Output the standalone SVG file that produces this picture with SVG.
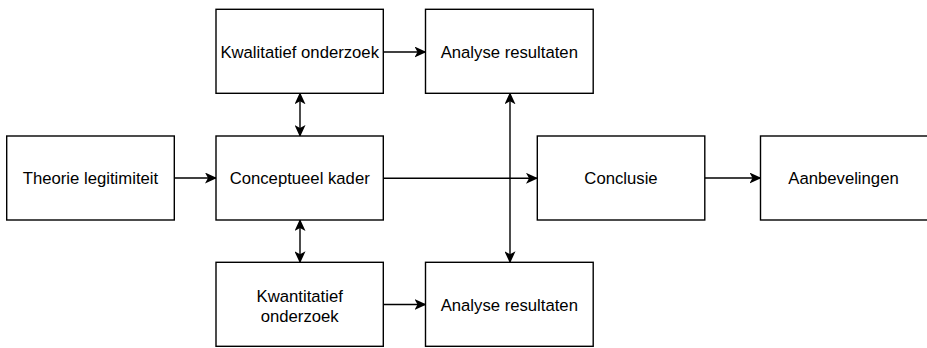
<svg xmlns="http://www.w3.org/2000/svg" width="927" height="348" viewBox="0 0 927 348">
<style>
.box{fill:#fff;stroke:#000;stroke-width:1.4}
.lbl{font-family:"Liberation Sans",Arial,sans-serif;font-size:16.7px;fill:#000;text-anchor:middle}
.edge{fill:none;stroke:#000;stroke-width:1.4}
</style>
<defs>
<marker id="ah" viewBox="0 0 12 11" refX="11" refY="5.5" markerWidth="12" markerHeight="11" markerUnits="userSpaceOnUse" orient="auto-start-reverse">
<path d="M0,0 L12,5.5 L0,11 L3,5.5 Z" fill="#000"/>
</marker>
</defs>
<rect width="927" height="348" fill="#fff"/>
<g id="connectors">
<line class="edge" x1="174.3" y1="178" x2="216" y2="178" marker-end="url(#ah)"/>
<line class="edge" x1="383.3" y1="52" x2="425.5" y2="52" marker-end="url(#ah)"/>
<line class="edge" x1="383.3" y1="304.5" x2="425.5" y2="304.5" marker-end="url(#ah)"/>
<line class="edge" x1="300" y1="93.3" x2="300" y2="136" marker-start="url(#ah)" marker-end="url(#ah)"/>
<line class="edge" x1="300" y1="220" x2="300" y2="262.3" marker-start="url(#ah)" marker-end="url(#ah)"/>
<line class="edge" x1="510" y1="93.3" x2="510" y2="262.3" marker-start="url(#ah)" marker-end="url(#ah)"/>
<path class="edge" d="M383.3,178.3 L537,178.3" stroke="#333" marker-end="url(#ah)"/>
<line class="edge" x1="704.8" y1="178" x2="760.5" y2="178" marker-end="url(#ah)"/>
</g>
<g id="theorie">
<rect class="box" x="6.7" y="136" width="167.6" height="84"/>
<text class="lbl" x="90.5" y="184">Theorie legitimiteit</text>
</g>
<g id="kwalitatief">
<rect class="box" x="216" y="9.3" width="167.3" height="84"/>
<text class="lbl" x="299.7" y="57.5">Kwalitatief onderzoek</text>
</g>
<g id="conceptueel">
<rect class="box" x="216" y="136" width="167.3" height="84"/>
<text class="lbl" x="299.7" y="184">Conceptueel kader</text>
</g>
<g id="kwantitatief">
<rect class="box" x="216" y="262.3" width="167.3" height="84"/>
<text class="lbl" x="299.7" y="302">Kwantitatief</text>
<text class="lbl" x="299.7" y="321.5">onderzoek</text>
</g>
<g id="analyse-top">
<rect class="box" x="425.5" y="9.3" width="167.7" height="84"/>
<text class="lbl" x="509.3" y="57.5">Analyse resultaten</text>
</g>
<g id="analyse-bottom">
<rect class="box" x="425.5" y="262.3" width="167.7" height="84"/>
<text class="lbl" x="509.3" y="310.5">Analyse resultaten</text>
</g>
<g id="conclusie">
<rect class="box" x="537.3" y="136" width="167.5" height="84"/>
<text class="lbl" x="621" y="184">Conclusie</text>
</g>
<g id="aanbevelingen">
<rect class="box" x="760.5" y="136" width="170" height="84"/>
<text class="lbl" x="843.5" y="184">Aanbevelingen</text>
</g>
</svg>
